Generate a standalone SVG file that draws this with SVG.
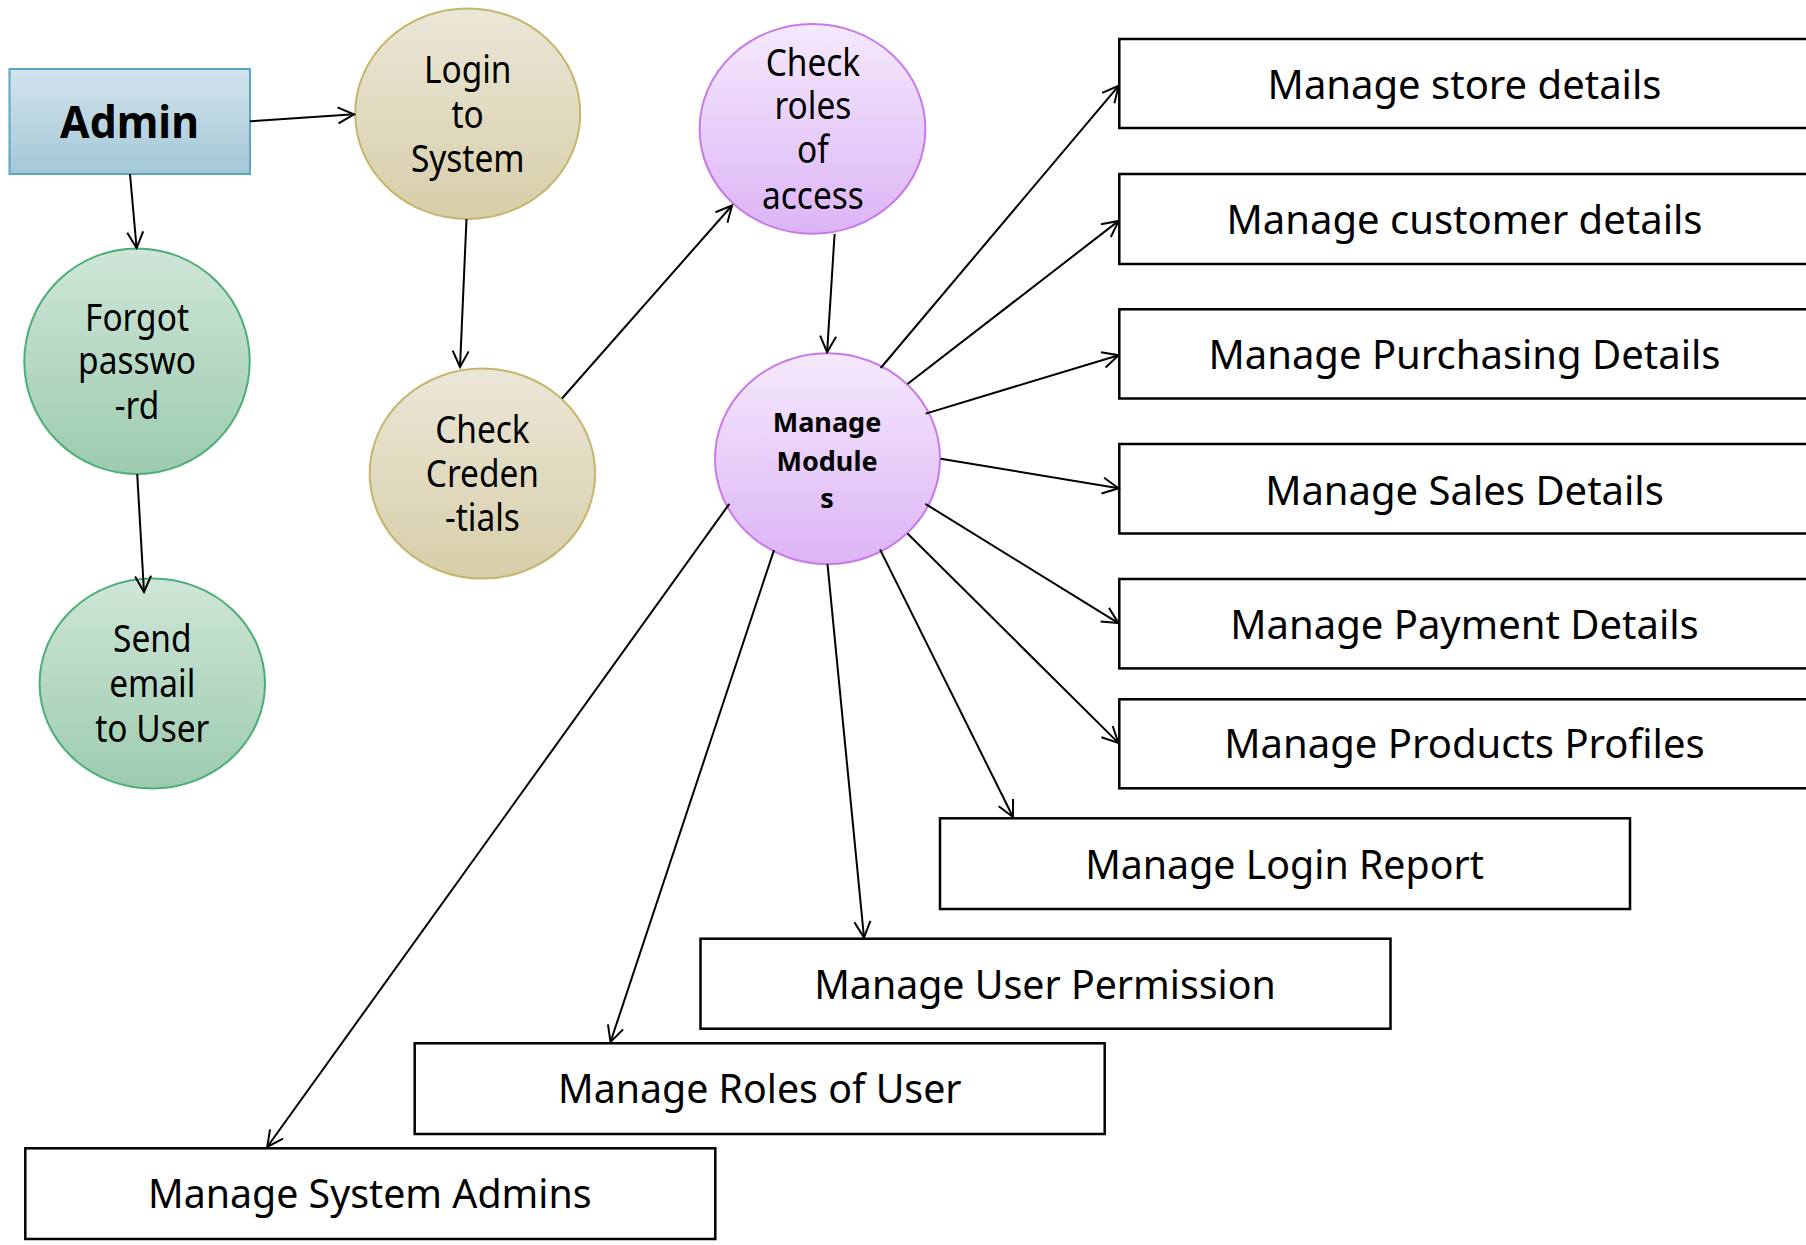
<svg xmlns="http://www.w3.org/2000/svg" width="1806" height="1245" viewBox="0 0 1806 1245">
<defs>
<linearGradient id="gBlue" x1="0" y1="0" x2="0" y2="1"><stop offset="0" stop-color="#d3e4ec"/><stop offset="1" stop-color="#a3c7d7"/></linearGradient>
<linearGradient id="gKhaki" x1="0" y1="0" x2="0" y2="1"><stop offset="0" stop-color="#ebe7d8"/><stop offset="1" stop-color="#d7cea9"/></linearGradient>
<linearGradient id="gGreen" x1="0" y1="0" x2="0" y2="1"><stop offset="0" stop-color="#cfe6d8"/><stop offset="1" stop-color="#9ccbaf"/></linearGradient>
<linearGradient id="gPurple" x1="0" y1="0" x2="0" y2="1"><stop offset="0" stop-color="#f5e9fc"/><stop offset="1" stop-color="#dcb4f6"/></linearGradient>
<marker id="arr" viewBox="0 0 20 20" markerWidth="20" markerHeight="20" markerUnits="userSpaceOnUse" refX="18" refY="10" orient="auto">
<path d="M2,2 L18,10 L2,18" fill="none" stroke="#000" stroke-width="2"/>
</marker>
<style>
text{font-family:"Noto Sans","DejaVu Sans",sans-serif;text-anchor:middle;fill:#000}
.el{font-size:38px}
.box{fill:#fff;stroke:#000;stroke-width:2.5}
.bt{font-size:40px}
.bt2{font-size:39.3px}
.mm{font-size:27px;font-weight:bold}
.con line{stroke:#000;stroke-width:2;marker-end:url(#arr)}
.blue{fill:url(#gBlue);stroke:#5aa6c3;stroke-width:2}
.khaki{fill:url(#gKhaki);stroke:#c6b56c;stroke-width:2}
.green{fill:url(#gGreen);stroke:#4cae76;stroke-width:2}
.purple{fill:url(#gPurple);stroke:#c87ae9;stroke-width:2}
</style>
</defs>
<rect width="1806" height="1245" fill="#fff"/>

<g id="admin">
<rect class="blue" x="9.5" y="69" width="240.5" height="105"/>
<g transform="translate(129.5 0) scale(0.95 1)"><text x="0" y="138.3" style="font-size:45px;font-weight:bold">Admin</text></g>
</g>
<g id="login">
<ellipse class="khaki" cx="467.7" cy="113.7" rx="112.5" ry="105.3"/>
<g transform="translate(467.7 0) scale(0.88 1)">
<text class="el" x="0" y="83.3">Login</text>
<text class="el" x="0" y="128">to</text>
<text class="el" x="0" y="171.7">System</text>
</g>
</g>
<g id="forgot">
<ellipse class="green" cx="137" cy="361.3" rx="112.7" ry="112.8"/>
<g transform="translate(137 0) scale(0.88 1)">
<text class="el" x="0" y="330.6">Forgot</text>
<text class="el" x="0" y="374.3">passwo</text>
<text class="el" x="0" y="419.4">-rd</text>
</g>
</g>
<g id="sendEmail">
<ellipse class="green" cx="152.3" cy="683.5" rx="112.7" ry="105"/>
<g transform="translate(152.3 0) scale(0.88 1)">
<text class="el" x="0" y="651.8">Send</text>
<text class="el" x="0" y="696.9">email</text>
<text class="el" x="0" y="742.4">to User</text>
</g>
</g>
<g id="checkCred">
<ellipse class="khaki" cx="482.4" cy="473.6" rx="112.7" ry="105"/>
<g transform="translate(482.4 0) scale(0.88 1)">
<text class="el" x="0" y="442.7">Check</text>
<text class="el" x="0" y="487.1">Creden</text>
<text class="el" x="0" y="531.5">-tials</text>
</g>
</g>
<g id="checkRoles">
<ellipse class="purple" cx="812.5" cy="128.9" rx="112.9" ry="104.9"/>
<g transform="translate(812.9 0) scale(0.88 1)">
<text class="el" x="0" y="75.8">Check</text>
<text class="el" x="0" y="119.1">roles</text>
<text class="el" x="0" y="163.5">of</text>
<text class="el" x="0" y="209">access</text>
</g>
</g>
<g id="manageModules">
<ellipse class="purple" cx="827.5" cy="458.7" rx="112.5" ry="105.4"/>
<text class="mm" x="827" y="431.7">Manage</text>
<text class="mm" x="827" y="470.6">Module</text>
<text class="mm" x="827" y="507.6">s</text>
</g>

<g id="store"><rect class="box" x="1119.3" y="39" width="700" height="89"/><text class="bt" x="1464.5" y="99.4">Manage store details</text></g>
<g id="customer"><rect class="box" x="1119.3" y="174" width="700" height="90"/><text class="bt" x="1464.5" y="233.8">Manage customer details</text></g>
<g id="purchasing"><rect class="box" x="1119.3" y="309.3" width="700" height="89.2"/><text class="bt" x="1464.5" y="368.7">Manage Purchasing Details</text></g>
<g id="sales"><rect class="box" x="1119.3" y="444" width="700" height="89.5"/><text class="bt" x="1464.5" y="504.7">Manage Sales Details</text></g>
<g id="payment"><rect class="box" x="1119.3" y="579" width="700" height="89.4"/><text class="bt" x="1464.5" y="639.1">Manage Payment Details</text></g>
<g id="products"><rect class="box" x="1119.3" y="699.3" width="700" height="89"/><text class="bt" x="1464.5" y="758.4">Manage Products Profiles</text></g>
<g id="loginReport"><rect class="box" x="940" y="818.3" width="690" height="90.7"/><text class="bt2" x="1284.5" y="879.3">Manage Login Report</text></g>
<g id="userPermission"><rect class="box" x="700.5" y="938.7" width="690" height="90"/><text class="bt2" x="1045" y="998.7">Manage User Permission</text></g>
<g id="rolesOfUser"><rect class="box" x="414.7" y="1043.3" width="690" height="90.7"/><text class="bt2" x="759.8" y="1103.3">Manage Roles of User</text></g>
<g id="systemAdmins"><rect class="box" x="25.3" y="1148.3" width="690" height="90.7"/><text class="bt2" x="369.8" y="1207.7">Manage System Admins</text></g>

<g id="connectors" class="con">
<line x1="250" y1="121.3" x2="354" y2="114.3"/>
<line x1="130" y1="174" x2="136.6" y2="248"/>
<line x1="137.2" y1="474" x2="144" y2="592"/>
<line x1="466.5" y1="219" x2="460" y2="367"/>
<line x1="562" y1="398.5" x2="732" y2="205.5"/>
<line x1="834.6" y1="234" x2="827.1" y2="352.2"/>
<line x1="880.7" y1="368" x2="1118.6" y2="85.8"/>
<line x1="907.5" y1="384" x2="1118.6" y2="220.9"/>
<line x1="925.7" y1="413.6" x2="1118.6" y2="355.2"/>
<line x1="940.7" y1="458.7" x2="1118.6" y2="488.3"/>
<line x1="925.4" y1="503.9" x2="1118.4" y2="623.1"/>
<line x1="907.5" y1="533.5" x2="1118.4" y2="742.9"/>
<line x1="880" y1="549.4" x2="1013" y2="817"/>
<line x1="827.5" y1="564.2" x2="864" y2="937.5"/>
<line x1="774" y1="550.1" x2="610.5" y2="1042"/>
<line x1="729.3" y1="503.9" x2="267.2" y2="1147"/>
</g>
</svg>
